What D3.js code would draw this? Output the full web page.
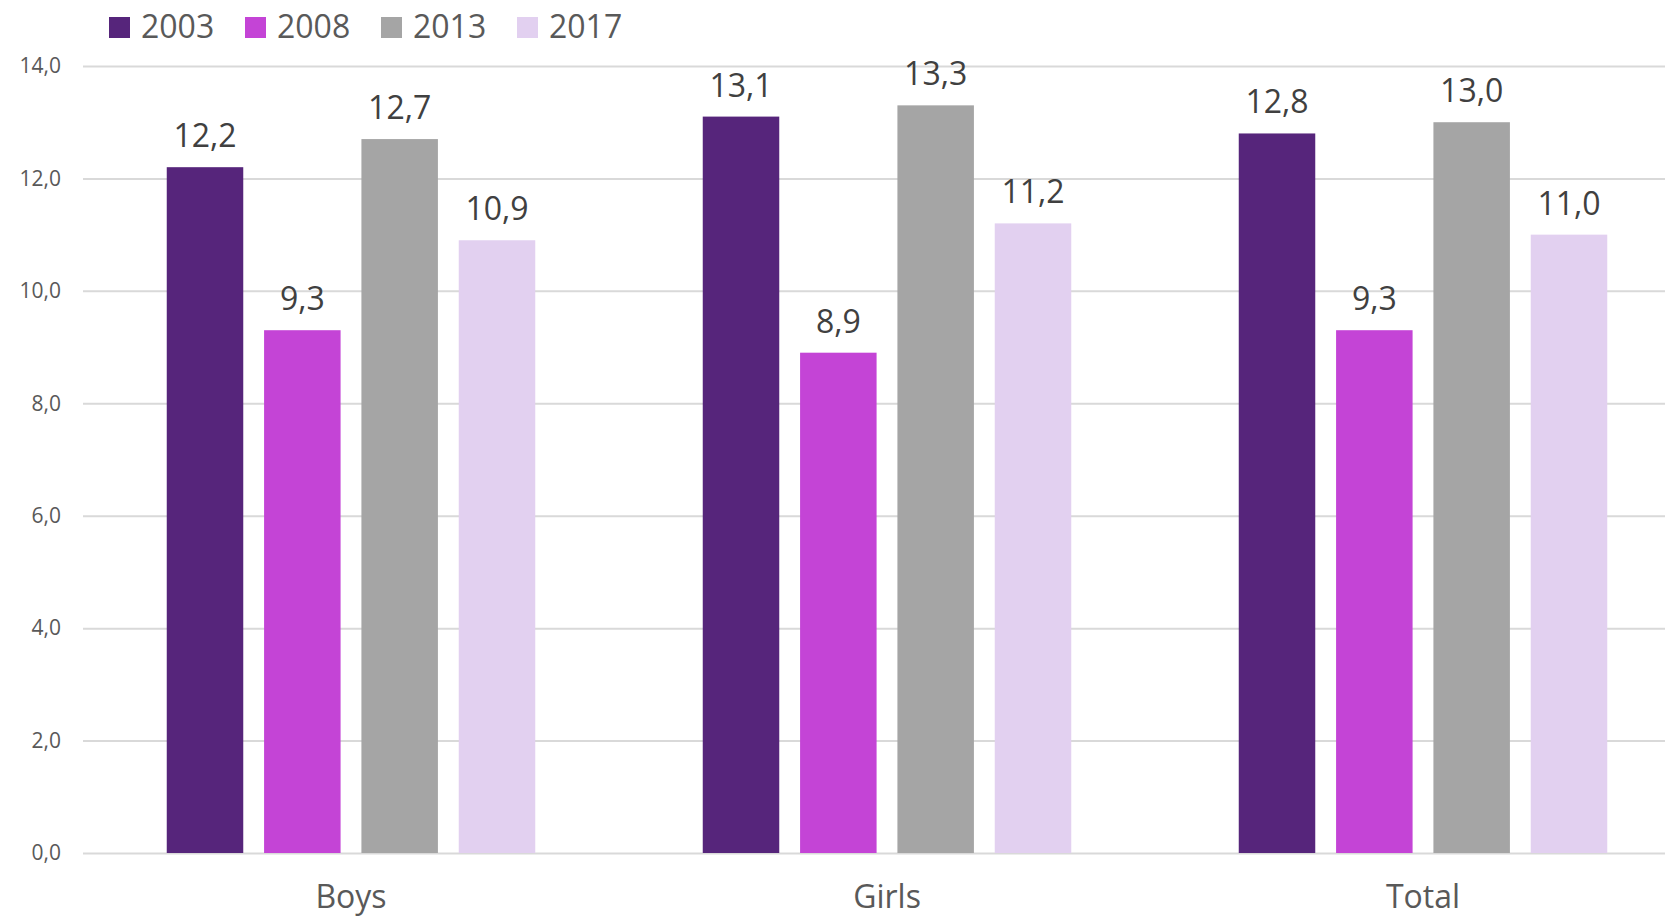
<!DOCTYPE html>
<html>
<head>
<meta charset="utf-8">
<script src="https://cdn.jsdelivr.net/npm/d3@7"></script>
<style>
  html, body { margin: 0; padding: 0; background: #ffffff; overflow: hidden; }
  svg { display: block; font-family: "Open Sans", sans-serif; }
</style>
</head>
<body>
<svg id="chart" width="1665" height="919"></svg>
<script>
const categories = ["Boys", "Girls", "Total"];
const seriesNames = ["2003", "2008", "2013", "2017"];
const values2003 = [12.2, 13.1, 12.8];
const values2008 = [9.3, 8.9, 9.3];
const values2013 = [12.7, 13.3, 13.0];
const values2017 = [10.9, 11.2, 11.0];
const yTicks = [0, 2, 4, 6, 8, 10, 12, 14];
const colors = ["#56257b", "#c444d6", "#a5a5a5", "#e2d0f0"];

const seriesValues = [values2003, values2008, values2013, values2017];
const rows = categories.map((c, i) => ({
  category: c,
  vals: seriesNames.map((s, j) => ({ series: s, value: seriesValues[j][i] }))
}));

const svg = d3.select("#chart");
const fmt = v => d3.format(".1f")(v).replace(".", ",");

const y = d3.scaleLinear().domain([0, 14]).range([853, 66]);
const x0 = d3.scaleBand().domain(categories).range([83, 1691]).paddingInner(0).paddingOuter(0);
const inset = 83.75;
const x1 = d3.scaleBand().domain(seriesNames).range([inset, x0.bandwidth() - inset]).paddingInner(0.214).paddingOuter(0);
const color = d3.scaleOrdinal().domain(seriesNames).range(colors);

// gridlines
const yAxis = d3.axisLeft(y).tickValues(yTicks).tickSize(-(1691 - 83)).tickFormat(fmt).tickPadding(22);
const gy = svg.append("g").attr("transform", "translate(83,0)").call(yAxis);
gy.select(".domain").remove();
gy.selectAll(".tick line").attr("stroke", "#d9d9d9").attr("stroke-width", 2);
gy.selectAll(".tick text").attr("fill", "#595959").style("font-size", "21px").attr("font-family", "Open Sans");

// bars
const groups = svg.append("g").selectAll("g").data(rows).join("g")
  .attr("transform", d => `translate(${x0(d.category)},0)`);
groups.selectAll("rect").data(d => d.vals).join("rect")
  .attr("x", d => x1(d.series))
  .attr("width", x1.bandwidth())
  .attr("y", d => y(d.value))
  .attr("height", d => y(0) - y(d.value))
  .attr("fill", d => color(d.series));
groups.selectAll("text").data(d => d.vals).join("text")
  .attr("x", d => x1(d.series) + x1.bandwidth() / 2)
  .attr("y", d => y(d.value) - 20)
  .attr("text-anchor", "middle")
  .attr("fill", "#404040")
  .style("font-size", "32px")
  .text(d => fmt(d.value));

// x axis labels
const xAxis = d3.axisBottom(x0).tickSize(0).tickPadding(0);
const gx = svg.append("g").attr("transform", "translate(0,853)").call(xAxis);
gx.select(".domain").remove();
gx.selectAll(".tick text").attr("fill", "#595959").style("font-size", "32px")
  .attr("font-family", "Open Sans").attr("dy", null).attr("y", 55);

// legend
const legend = svg.append("g").selectAll("g").data(seriesNames).join("g")
  .attr("transform", (d, i) => `translate(${109 + i * 136},17)`);
legend.append("rect").attr("width", 21).attr("height", 21).attr("fill", d => color(d));
legend.append("text").attr("x", 32).attr("y", 20.7).attr("fill", "#595959")
  .style("font-size", "32px").text(d => d);
</script>
</body>
</html>
